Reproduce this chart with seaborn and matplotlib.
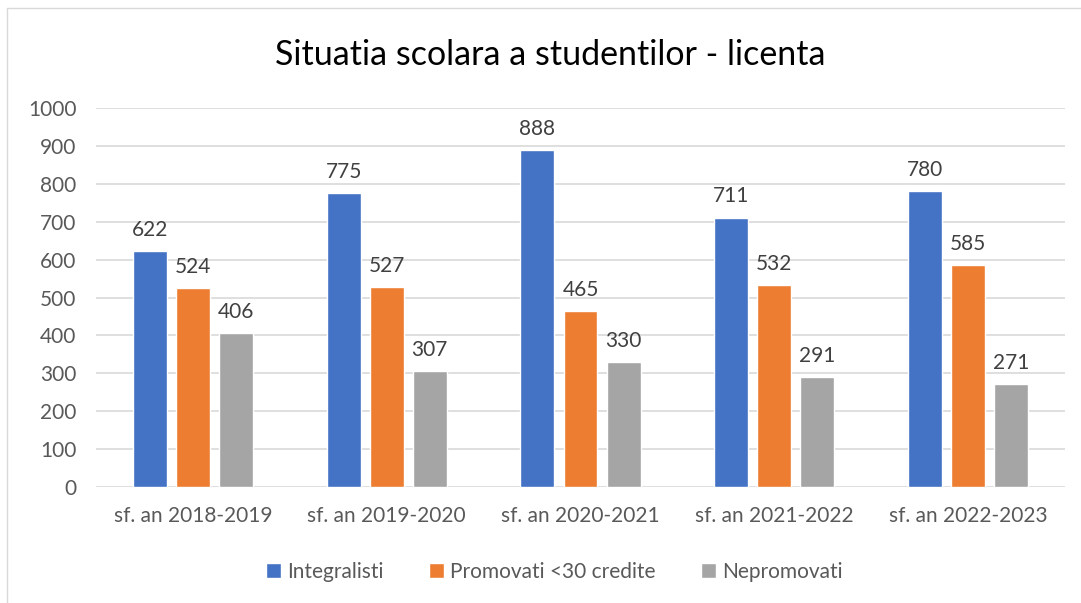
import pandas as pd
import matplotlib
matplotlib.use('Agg')
import matplotlib.pyplot as plt
from matplotlib.lines import Line2D
from matplotlib.patches import Patch
import seaborn as sns

# ─── date ────────────────────────────────────────────────
ani = ["sf. an 2018-2019", "sf. an 2019-2020", "sf. an 2020-2021",
       "sf. an 2021-2022", "sf. an 2022-2023"]
integralisti = [622, 775, 888, 711, 780]
promovati = [524, 527, 465, 532, 585]
nepromovati = [406, 307, 330, 291, 271]
serii = ["Integralisti", "Promovati <30 credite", "Nepromovati"]
culori = ["#4472C4", "#ED7D31", "#A5A5A5"]

df = pd.DataFrame({
    "an": ani * 3,
    "serie": [serii[0]] * 5 + [serii[1]] * 5 + [serii[2]] * 5,
    "valoare": integralisti + promovati + nepromovati,
})

sns.set_theme(style="white")
plt.rcParams['font.family'] = ['Lato', 'DejaVu Sans']

fig = plt.figure(figsize=(10.81, 6.03), dpi=100)
ax = fig.add_axes([96 / 1081, 1 - 487 / 603, (1065 - 96) / 1081, (487 - 108) / 603])

sns.barplot(data=df, x="an", y="valoare", hue="serie", hue_order=serii,
            palette=culori, width=0.666, gap=0.21, saturation=1,
            legend=False, ax=ax)

for cont in ax.containers:
    ax.bar_label(cont, padding=8, fontsize=15, color="#404040")

ax.set_ylim(0, 1000)
ax.set_yticks(range(0, 1001, 100))
ax.set_xlim(-0.5, 4.5)
ax.grid(axis="y", color="#D9D9D9", linewidth=1.2)
ax.set_axisbelow(True)
for s in ax.spines.values():
    s.set_visible(False)
ax.tick_params(axis="both", length=0, labelsize=15, labelcolor="#595959")
ax.tick_params(axis="x", pad=14)
ax.tick_params(axis="y", pad=14)
ax.set_xlabel("")
ax.set_ylabel("")

fig.text(0.509, 1 - 55 / 603, "Situatia scolara a studentilor - licenta",
         ha="center", va="center", fontsize=24.5, color="#000000")

handles = [Patch(facecolor=c, label=s) for c, s in zip(culori, serii)]
fig.legend(handles=handles, loc="center", bbox_to_anchor=(0.513, 1 - 572 / 603),
           ncol=3, frameon=False, fontsize=15, handlelength=0.7,
           handleheight=0.7, handletextpad=0.3, columnspacing=2.2,
           labelcolor="#595959")

# chenar
fig.add_artist(Line2D([7 / 1081, 7 / 1081], [0, 1 - 8 / 603],
                      transform=fig.transFigure, color="#D9D9D9", lw=1))
fig.add_artist(Line2D([7 / 1081, 1], [1 - 8 / 603, 1 - 8 / 603],
                      transform=fig.transFigure, color="#D9D9D9", lw=1))

fig.savefig("out.png", dpi=100)
